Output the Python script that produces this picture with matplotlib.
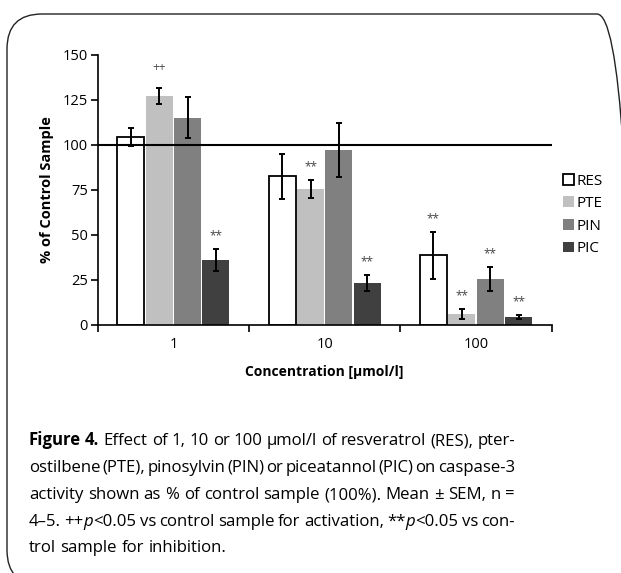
import re
import numpy as np
import matplotlib
matplotlib.use('Agg')
import matplotlib.pyplot as plt
from matplotlib.patches import FancyBboxPatch
from matplotlib.transforms import IdentityTransform

# --- data ---
concentrations = ['1', '10', '100']
compounds = ['RES', 'PTE', 'PIN', 'PIC']
colors = ['white', '#c0c0c0', '#808080', '#404040']

means = {
    'RES': [104.6, 82.5, 38.6],
    'PTE': [127.2, 75.5, 6.0],
    'PIN': [115.2, 97.3, 25.4],
    'PIC': [36.0, 23.2, 4.4],
}
sems = {
    'RES': [5.0, 12.6, 13.0],
    'PTE': [4.3, 4.9, 2.6],
    'PIN': [11.2, 15.1, 6.6],
    'PIC': [5.9, 4.3, 1.1],
}
marks = {
    'RES': ['', '', '**'],
    'PTE': ['++', '**', '**'],
    'PIN': ['', '', '**'],
    'PIC': ['**', '**', '**'],
}

caption = [
    "#Figure# #4.# Effect of 1, 10 or 100 µmol/l of resveratrol (RES), pter-",
    "ostilbene (PTE), pinosylvin (PIN) or piceatannol (PIC) on caspase-3",
    "activity shown as % of control sample (100%). Mean ± SEM, n =",
    "4–5. ++_p_<0.05 vs control sample for activation, **_p_<0.05 vs con-",
    "trol sample for inhibition.",
]

plt.rcParams['font.family'] = ['Open Sans', 'DejaVu Sans']
CAP_FONT = ['Open Sans', 'DejaVu Sans']

W, H = 621, 573
fig = plt.figure(figsize=(W / 100, H / 100), dpi=100)
ax = fig.add_axes([97.7 / W, 1 - 324.7 / H, 454 / W, 269.7 / H])

x = np.arange(len(concentrations))
pitch = 0.1875
width = 0.178
for i, c in enumerate(compounds):
    pos = x + (i - 1.5) * pitch
    if c == 'RES':
        ax.bar(pos, means[c], width, color='white', edgecolor='black', linewidth=1.3, label=c, zorder=2)
    else:
        ax.bar(pos, means[c], width, color=colors[i], edgecolor='none', label=c, zorder=2)
    ax.errorbar(pos, means[c], yerr=sems[c], fmt='none', ecolor='black',
                elinewidth=1.4, capsize=2.2, capthick=1.4, zorder=4)
    for p, m, s, t in zip(pos, means[c], sems[c], marks[c]):
        if t:
            off = 10 if t == '++' else 5
            ax.annotate(t, (p, m + s), xytext=(0, off), textcoords='offset points',
                        ha='center', va='bottom', fontsize=8.5, color='#444444')

ax.axhline(100, color='black', linewidth=1.5, zorder=3)

ax.set_xlim(-0.5, 2.5)
ax.set_ylim(0, 150)
ax.set_yticks([0, 25, 50, 75, 100, 125, 150])
ax.set_xticks([-0.5, 0.5, 1.5, 2.5])
ax.set_xticklabels([])
ax.set_xticks(x, minor=True)
ax.set_xticklabels(concentrations, minor=True)
ax.tick_params(axis='x', which='minor', length=0, pad=9, labelsize=10.5)
ax.tick_params(axis='x', which='major', direction='out', length=5, width=1.2)
ax.tick_params(axis='y', direction='out', length=5, width=1.2, labelsize=10.5, pad=2)
for sp in ['top', 'right']:
    ax.spines[sp].set_visible(False)
for sp in ['left', 'bottom']:
    ax.spines[sp].set_linewidth(1.2)

ax.set_ylabel('% of Control Sample', fontsize=10.5, fontweight='bold', labelpad=6)
ax.set_xlabel('Concentration [µmol/l]', fontsize=10, fontweight='bold', labelpad=9)

leg = ax.legend(loc='center left', bbox_to_anchor=(563 / W, 1 - 215 / H),
                bbox_transform=fig.transFigure, frameon=False, fontsize=11,
                handlelength=0.7, handleheight=0.7, handletextpad=0.2,
                labelspacing=0.5, borderpad=0, borderaxespad=0)

# rounded frame round the whole figure
frame = FancyBboxPatch((7, H - 585), 625, 571, boxstyle='round,pad=0,rounding_size=35',
                       transform=IdentityTransform(), facecolor='none',
                       edgecolor='#222222', linewidth=1.0)
fig.add_artist(frame)

# --- caption, justified word by word ---
renderer = fig.canvas.get_renderer()
styles = {'n': {}, 'b': {'fontweight': 'bold'}, 'i': {'fontstyle': 'italic'}}


def runs_of(word):
    out = []
    for piece in re.split(r'(#[^#]+#|_[^_]+_)', word):
        if not piece:
            continue
        if piece.startswith('#'):
            out.append((piece[1:-1], 'b'))
        elif piece.startswith('_'):
            out.append((piece[1:-1], 'i'))
        else:
            out.append((piece, 'n'))
    return out


def width_of(s, size, st):
    t = fig.text(0, 0, s, fontsize=size, family=CAP_FONT, **styles[st])
    w = t.get_window_extent(renderer).width
    t.remove()
    return w


x0, x1 = 29, 515
baselines = [445, 472, 499, 526, 552]
base = 12.0
words_all = [[runs_of(w) for w in line.split(' ')] for line in caption]
space = width_of('n n', base, 'n') - width_of('nn', base, 'n')
need = []
for words in words_all[:-1]:
    tot = sum(width_of(s, base, st) for w in words for s, st in w)
    need.append(tot + 0.45 * space * (len(words) - 1))
size = min(14.0, base * (x1 - x0) / max(need))
space = space * size / base

for li, words in enumerate(words_all):
    widths = [[width_of(s, size, st) for s, st in w] for w in words]
    total = sum(sum(w) for w in widths)
    if li < len(words_all) - 1:
        gap = (x1 - x0 - total) / (len(words) - 1)
    else:
        gap = space
    cx = x0
    for w, ws in zip(words, widths):
        for (s, st), wd in zip(w, ws):
            fig.text(cx / W, 1 - baselines[li] / H, s, fontsize=size, va='baseline',
                     ha='left', family=CAP_FONT, **styles[st])
            cx += wd
        cx += gap

fig.savefig('out.png', dpi=100)
